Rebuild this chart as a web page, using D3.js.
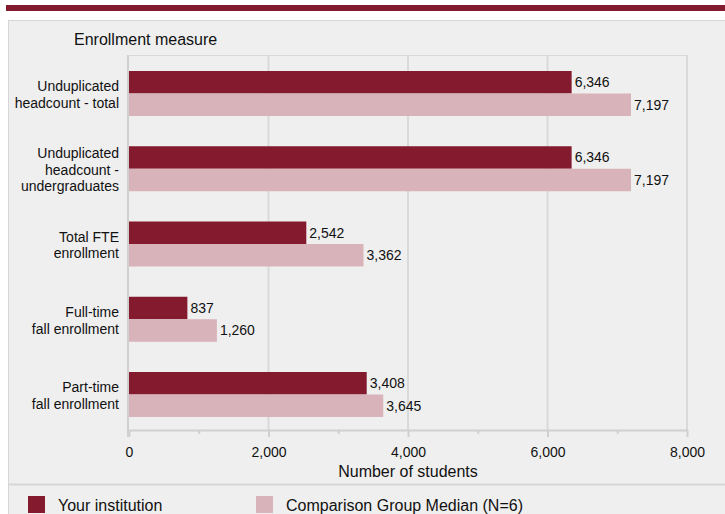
<!DOCTYPE html>
<html>
<head>
<meta charset="utf-8">
<script src="https://cdn.jsdelivr.net/npm/d3@7/dist/d3.min.js"></script>
<style>
  body { margin: 0; background: #fff; font-family: "Liberation Sans", Arial, sans-serif; }
  svg { display: block; }
</style>
</head>
<body>
<svg id="chart" width="725" height="514"></svg>
<script>
var categories = [
	["Unduplicated", "headcount - total"],
	["Unduplicated", "headcount -", "undergraduates"],
	["Total FTE", "enrollment"],
	["Full-time", "fall enrollment"],
	["Part-time", "fall enrollment"]
];
var yourInstitution = [6346, 6346, 2542, 837, 3408];
var comparisonMedian = [7197, 7197, 3362, 1260, 3645];
var seriesNames = ["Your institution", "Comparison Group Median (N=6)"];
var xTicks = [0, 2000, 4000, 6000, 8000];

var dark = "#841a2e", light = "#d8b3b9", grid = "#d9d9d9", ink = "#111";

var svg = d3.select("#chart");

// top strip and panel
svg.append("rect").attr("x", 6).attr("y", 5).attr("width", 719).attr("height", 6).attr("fill", dark);
svg.append("rect").attr("x", 8.5).attr("y", 20.5).attr("width", 730).attr("height", 500)
	.attr("fill", "#efefef").attr("stroke", "#d6d6d6");

var x = d3.scaleLinear().domain([0, 8000]).range([129, 687]);
var y = d3.scaleBand().domain(d3.range(categories.length)).range([55, 433])
	.paddingInner(0.402).paddingOuter(0.2126);

// gridlines
svg.append("g").selectAll("line").data(xTicks.slice(1)).enter().append("line")
	.attr("x1", function (d) { return x(d); }).attr("x2", function (d) { return x(d); })
	.attr("y1", 55).attr("y2", 430)
	.attr("stroke", grid).attr("stroke-width", 2);
svg.append("line").attr("x1", 128).attr("x2", 688).attr("y1", 55.5).attr("y2", 55.5)
	.attr("stroke", grid).attr("stroke-width", 1);

// bars
var groups = svg.append("g").selectAll("g").data(categories).enter().append("g")
	.attr("transform", function (d, i) { return "translate(0," + y(i) + ")"; });
var bh = y.bandwidth() / 2;

groups.append("rect").attr("x", x(0)).attr("y", 0).attr("height", bh)
	.attr("width", function (d, i) { return x(yourInstitution[i]) - x(0); }).attr("fill", dark);
groups.append("rect").attr("x", x(0)).attr("y", bh).attr("height", bh)
	.attr("width", function (d, i) { return x(comparisonMedian[i]) - x(0); }).attr("fill", light);

var fmt = d3.format(",");
groups.append("text").attr("x", function (d, i) { return x(yourInstitution[i]) + 3; })
	.attr("y", bh / 2).attr("dy", "0.35em").attr("font-size", 14).attr("fill", ink)
	.text(function (d, i) { return fmt(yourInstitution[i]); });
groups.append("text").attr("x", function (d, i) { return x(comparisonMedian[i]) + 3; })
	.attr("y", bh * 1.5).attr("dy", "0.35em").attr("font-size", 14).attr("fill", ink)
	.text(function (d, i) { return fmt(comparisonMedian[i]); });

// category labels
groups.each(function (d) {
	var t = d3.select(this).append("text").attr("text-anchor", "end").attr("font-size", 14).attr("fill", ink);
	var lh = 16.7, start = bh + 1 - (d.length - 1) * lh / 2;
	d.forEach(function (line, k) {
		t.append("tspan").attr("x", 119).attr("y", start + k * lh).attr("dy", "0.35em").text(line);
	});
});

// y axis line
svg.append("line").attr("x1", 128).attr("x2", 128).attr("y1", 55).attr("y2", 437)
	.attr("stroke", "#d0d0d0").attr("stroke-width", 2);

// x axis
var xAxis = d3.axisBottom(x).tickValues(d3.range(0, 8001, 1000)).tickSize(0)
	.tickFormat(function (d) { return d % 2000 === 0 ? fmt(d) : ""; });
var ax = svg.append("g").attr("transform", "translate(0,430)").call(xAxis);
ax.select(".domain").attr("stroke", "#d0d0d0").attr("stroke-width", 2);
ax.selectAll(".tick line").attr("stroke", "#d0d0d0").attr("stroke-width", 2)
	.attr("y2", function (d) { return d % 2000 === 0 ? 7 : 4; });
ax.selectAll(".tick text").attr("y", 27).attr("dy", null).attr("font-size", 14).attr("fill", ink)
	.attr("font-family", "Liberation Sans, Arial, sans-serif");

svg.append("text").attr("x", x(4000)).attr("y", 477).attr("text-anchor", "middle")
	.attr("font-size", 16).attr("fill", ink).text("Number of students");
svg.append("text").attr("x", 74).attr("y", 45).attr("font-size", 16).attr("fill", ink).text("Enrollment measure");

// legend
svg.append("line").attr("x1", 9).attr("x2", 725).attr("y1", 484.5).attr("y2", 484.5).attr("stroke", "#d6d6d6").attr("stroke-width", 2);
var leg = svg.append("g").selectAll("g").data(seriesNames).enter().append("g")
	.attr("transform", function (d, i) { return "translate(" + [28, 256][i] + ",496)"; });
leg.append("rect").attr("width", 17).attr("height", 17).attr("fill", function (d, i) { return i ? light : dark; });
leg.append("text").attr("x", 30).attr("y", 15).attr("font-size", 16).attr("fill", ink)
	.text(function (d) { return d; });
</script>
</body>
</html>
